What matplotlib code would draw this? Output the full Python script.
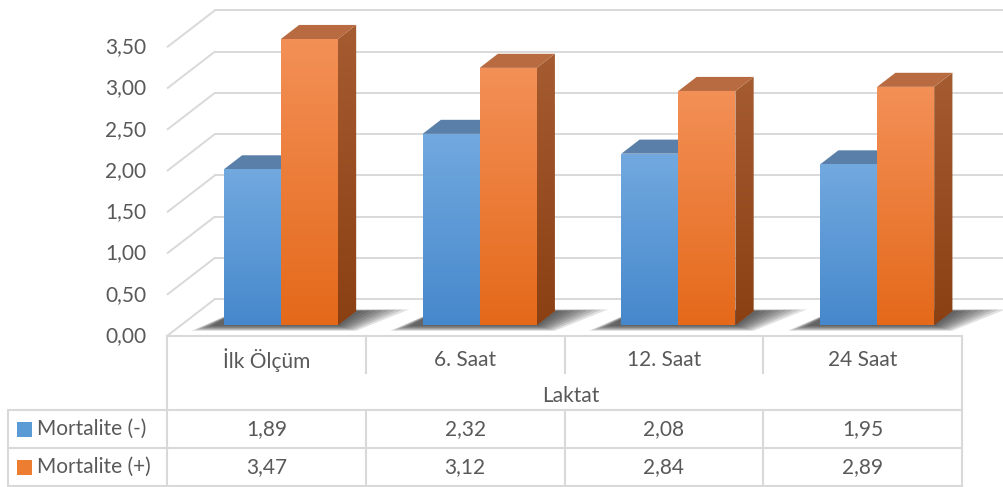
import numpy as np
import matplotlib.pyplot as plt
from matplotlib.patches import Polygon, Rectangle
from matplotlib.colors import LinearSegmentedColormap

# data
categories = ["İlk Ölçüm", "6. Saat", "12. Saat", "24 Saat"]
mort_neg = [1.89, 2.32, 2.08, 1.95]
mort_pos = [3.47, 3.12, 2.84, 2.89]
series_names = ["Mortalite (-)", "Mortalite (+)"]
y_ticks = [0.0, 0.5, 1.0, 1.5, 2.0, 2.5, 3.0, 3.5]
axis_title = "Laktat"

plt.rcParams['font.family'] = ['Lato', 'DejaVu Sans']
TXT = '#595959'
GRID = '#D9D9D9'
FS = 15

W, H = 1004, 487
fig = plt.figure(figsize=(W / 100, H / 100), dpi=100)
ax = fig.add_axes([0, 0, 1, 1])

# layout of the fake 3d box (pixels)
X0_PX = 167      # front-left corner of the floor
CAT_PX = 198.75  # width of one category
Y0_PX = 336      # value 0 on the front plane
UNIT_PX = 82.5   # pixels per unit of value
DX = 48 / CAT_PX
DY = 37 / UNIT_PX


def px(p):
    return (p - X0_PX) / CAT_PX


def py(p):
    return (Y0_PX - p) / UNIT_PX


n = len(categories)

# walls / gridlines
for v in y_ticks:
    ax.plot([0, DX], [v, v + DY], color=GRID, lw=1.4, zorder=1, solid_capstyle='butt')
    ax.plot([DX, n + DX], [v + DY, v + DY], color=GRID, lw=1.4, zorder=1)
    ax.text(px(146), v, f"{v:.2f}".replace('.', ','), ha='right', va='center',
            fontsize=FS, color=TXT)

# bars
off = 0.216     # gap before first bar of a group
bw = 0.287      # bar width
f0, f1 = 0.29, 0.67  # depth of front and back face

front_cols = [('#72A9DF', '#4688CC'), ('#F39057', '#E4691A')]
side_cols = [('#4F7DB0', '#34608F'), ('#A65C31', '#8A4012')]
top_cols = ['#5A80AA', '#B86B40']

grad = np.linspace(0, 1, 256).reshape(-1, 1)


def grad_fill(poly, c_top, c_bot, ext, z):
    cmap = LinearSegmentedColormap.from_list('g', [c_top, c_bot])
    im = ax.imshow(grad, extent=ext, aspect='auto', cmap=cmap, zorder=z,
                   interpolation='bicubic')
    patch = Polygon(poly, closed=True, facecolor='none', edgecolor='none',
                    transform=ax.transData)
    im.set_clip_path(patch)


for i in range(n):
    # soft shadow under the pair of bars
    xl = i + off
    xr = i + off + 2 * bw
    for k in range(8):
        e = 0.016 * (8 - k)
        d0 = f0 - 0.15 * (8 - k) / 8
        d1 = f1 + 0.05 * (8 - k) / 8
        shp = [(xl - 0.6 * e + d0 * DX - 0.05, d0 * DY),
               (xr + e + d0 * DX, d0 * DY),
               (xr + 2 * e + d1 * DX, d1 * DY),
               (xl + d1 * DX - 0.02, d1 * DY)]
        ax.add_patch(Polygon(shp, closed=True, facecolor='#1a1a1a', edgecolor='none',
                             alpha=0.13, zorder=2))

    for j, vals in enumerate([mort_neg, mort_pos]):
        v = vals[i]
        x = i + off + j * bw
        z = 3 + j
        # side face
        side = [(x + bw + f0 * DX, f0 * DY), (x + bw + f1 * DX, f1 * DY),
                (x + bw + f1 * DX, v + f1 * DY), (x + bw + f0 * DX, v + f0 * DY)]
        grad_fill(side, side_cols[j][0], side_cols[j][1],
                  (x + bw + f0 * DX, x + bw + f1 * DX, f0 * DY, v + f1 * DY), z)
        # top face
        top = [(x + f0 * DX, v + f0 * DY), (x + bw + f0 * DX, v + f0 * DY),
               (x + bw + f1 * DX, v + f1 * DY), (x + f1 * DX, v + f1 * DY)]
        ax.add_patch(Polygon(top, closed=True, facecolor=top_cols[j], edgecolor='none', zorder=z))
        # front face
        front = [(x + f0 * DX, f0 * DY), (x + bw + f0 * DX, f0 * DY),
                 (x + bw + f0 * DX, v + f0 * DY), (x + f0 * DX, v + f0 * DY)]
        grad_fill(front, front_cols[j][0], front_cols[j][1],
                  (x + f0 * DX, x + bw + f0 * DX, f0 * DY, v + f0 * DY), z + 0.5)

# data table
lw_t = 1.5
row_cat = (py(336), py(373))
rows = [py(410), py(448), py(486)]
left_leg = px(8)

ax.plot([0, n], [0, 0], color=GRID, lw=lw_t, zorder=1)
ax.plot([0, 0], [0, rows[-1]], color=GRID, lw=lw_t, zorder=1)
ax.plot([n, n], [0, rows[-1]], color=GRID, lw=lw_t, zorder=1)
for i in range(1, n):
    ax.plot([i, i], [row_cat[0], row_cat[1]], color=GRID, lw=lw_t, zorder=1)
    ax.plot([i, i], [rows[0], rows[-1]], color=GRID, lw=lw_t, zorder=1)
for r in rows:
    ax.plot([left_leg, n], [r, r], color=GRID, lw=lw_t, zorder=1)
ax.plot([left_leg, left_leg], [rows[0], rows[-1]], color=GRID, lw=lw_t, zorder=1)

for i, c in enumerate(categories):
    ax.text(i + 0.5, py(360), c, ha='center', va='center', fontsize=FS, color=TXT)
ax.text(n / 2 + 0.03, py(396), axis_title, ha='center', va='center', fontsize=FS, color=TXT)

sq_cols = ['#5B9BD5', '#ED7D31']
for j, (name, vals) in enumerate(zip(series_names, [mort_neg, mort_pos])):
    yc = (rows[j] + rows[j + 1]) / 2
    h = 15 / UNIT_PX
    ax.add_patch(Rectangle((px(17), yc - h / 2), 15 / CAT_PX, h,
                           facecolor=sq_cols[j], edgecolor='none', zorder=3))
    ax.text(px(37), yc, name, ha='left', va='center', fontsize=FS, color=TXT)
    for i, v in enumerate(vals):
        ax.text(i + 0.5, yc, f"{v:.2f}".replace('.', ','), ha='center', va='center',
                fontsize=FS, color=TXT)

ax.set_xlim(-X0_PX / CAT_PX, (W - X0_PX) / CAT_PX)
ax.set_ylim(-(H - Y0_PX) / UNIT_PX, Y0_PX / UNIT_PX)
ax.axis('off')

fig.savefig('out.png', dpi=100)
